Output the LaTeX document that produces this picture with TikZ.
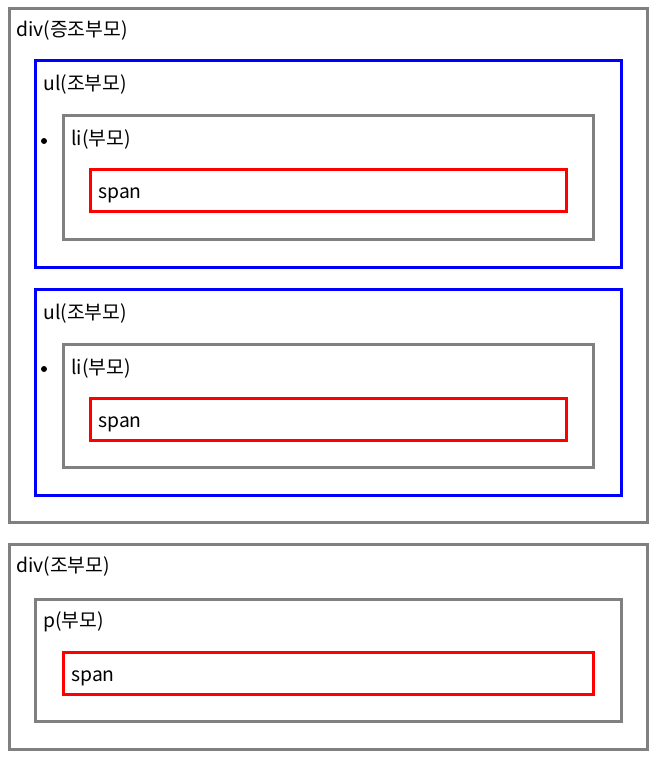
\documentclass[tikz,border=0pt]{standalone}
\usepackage{fontspec}
\setmainfont{Noto Sans CJK KR}
\tikzset{
  divbox/.style={draw=gray, line width=2.25pt},
  ulbox/.style={draw=blue, line width=2.25pt},
  libox/.style={draw=gray, line width=2.25pt},
  spanbox/.style={draw=red, line width=2.25pt},
  lbl/.style={anchor=base west, inner sep=0pt, font=\fontsize{14.5}{16}\selectfont}
}
\begin{document}
\begin{tikzpicture}[x=0.75pt, y=-0.75pt]
  \useasboundingbox (0,0) rectangle (656,759);
  % first div
  \draw[divbox] (9,9) rectangle (647,522);
  \node[lbl] (div1) at (16,37) {div(증조부모)};
  \foreach \dy/\n in {0/a,228/b} {
    \draw[ulbox] (35,61+\dy) rectangle (621,267+\dy);
    \node[lbl] (ul\n) at (43,91+\dy) {ul(조부모)};
    \fill (44,141+\dy) circle (3);
    \draw[libox] (63,116+\dy) rectangle (593,239+\dy);
    \node[lbl] (li\n) at (71,146+\dy) {li(부모)};
    \draw[spanbox] (90,170+\dy) rectangle (566,212+\dy);
    \node[lbl] (span\n) at (98,199+\dy) {span};
  }
  % second div
  \draw[divbox] (9,544) rectangle (647,749);
  \node[lbl] (div2) at (16,572) {div(조부모)};
  \draw[libox] (35,599) rectangle (621,721);
  \node[lbl] (p) at (43,627) {p(부모)};
  \draw[spanbox] (63,652) rectangle (593,694);
  \node[lbl] (spanc) at (71,681) {span};
\end{tikzpicture}
\end{document}
